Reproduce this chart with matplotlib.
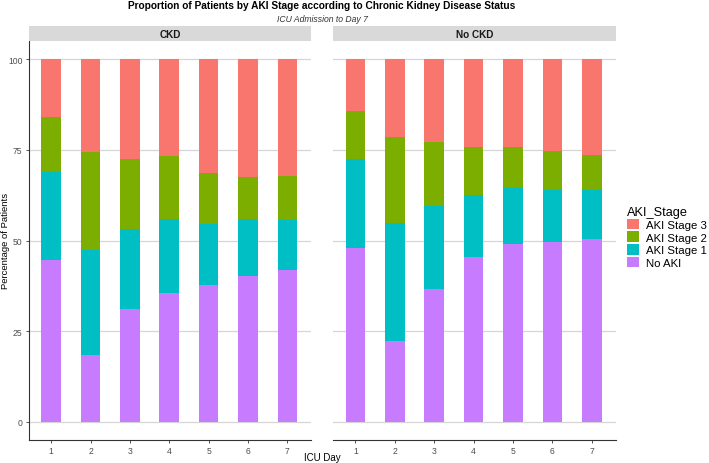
import numpy as np
import matplotlib
matplotlib.use("Agg")
import matplotlib.pyplot as plt
from matplotlib.patches import Patch

plt.rcParams['font.family'] = ['Liberation Sans', 'DejaVu Sans']

days = [1, 2, 3, 4, 5, 6, 7]
panels = ['CKD', 'No CKD']
stages = ['No AKI', 'AKI Stage 1', 'AKI Stage 2', 'AKI Stage 3']
colors = {'AKI Stage 3': '#F8766D', 'AKI Stage 2': '#7CAE00',
          'AKI Stage 1': '#00BFC4', 'No AKI': '#C77CFF'}

# percentages per day
ckd_no_aki = [44.6, 18.4, 31.0, 35.6, 37.7, 40.1, 41.9]
ckd_stage1 = [24.4, 28.9, 22.1, 20.4, 16.8, 15.7, 13.7]
ckd_stage2 = [15.0, 27.1, 19.5, 17.2, 14.1, 11.8, 12.2]
ckd_stage3 = [16.0, 25.6, 27.4, 26.8, 31.4, 32.4, 32.2]

nockd_no_aki = [47.8, 22.4, 36.5, 45.5, 48.9, 49.5, 50.4]
nockd_stage1 = [24.6, 32.4, 22.9, 17.1, 15.6, 14.3, 13.4]
nockd_stage2 = [13.3, 23.8, 17.8, 13.3, 11.4, 10.8, 9.9]
nockd_stage3 = [14.3, 21.4, 22.8, 24.1, 24.1, 25.4, 26.3]

data = {
    'CKD': [ckd_no_aki, ckd_stage1, ckd_stage2, ckd_stage3],
    'No CKD': [nockd_no_aki, nockd_stage1, nockd_stage2, nockd_stage3],
}

W, H = 709, 464
fig = plt.figure(figsize=(W / 100, H / 100), dpi=100)

def px(x0, y0, x1, y1):
    return [x0 / W, 1 - y1 / H, (x1 - x0) / W, (y1 - y0) / H]

grid_col = '#D6D6D6'
panel_x = [(28.7, 311.0), (332.9, 615.5)]

for i, name in enumerate(panels):
    x0, x1 = panel_x[i]
    ax = fig.add_axes(px(x0, 42, x1, 441))
    bottom = np.zeros(len(days))
    for stage, vals in zip(stages, data[name]):
        ax.bar(days, vals, width=0.5, bottom=bottom, color=colors[stage],
               linewidth=0, zorder=2)
        bottom += np.array(vals)
    ax.set_xlim(0.43, 7.6)
    ax.set_ylim(-5, 105)
    ax.set_yticks([0, 25, 50, 75, 100])
    ax.set_xticks(days)
    ax.set_xticklabels([str(d) for d in days])
    ax.yaxis.grid(True, color=grid_col, linewidth=0.9, zorder=0)
    ax.set_axisbelow(True)
    for s in ['top', 'right']:
        ax.spines[s].set_visible(False)
    ax.spines['bottom'].set_color('#333333')
    ax.spines['bottom'].set_linewidth(0.8)
    ax.tick_params(axis='both', labelsize=6.2, colors='#333333', length=2.5,
                   width=0.6, pad=2)
    ax.tick_params(axis='both', labelcolor='#4D4D4D')
    if i == 0:
        ax.spines['left'].set_color('#333333')
        ax.spines['left'].set_linewidth(0.8)
    else:
        ax.spines['left'].set_visible(False)
        ax.tick_params(axis='y', left=False, labelleft=False)

    # facet strip
    sax = fig.add_axes(px(x0, 27, x1, 42))
    sax.set_facecolor('#D9D9D9')
    sax.set_xticks([])
    sax.set_yticks([])
    for s in sax.spines.values():
        s.set_visible(False)
    sax.text(0.5, 0.5, name, ha='center', va='center', fontsize=7.2,
             fontweight='bold', color='#1A1A1A', transform=sax.transAxes)

fig.text(322 / W, 1 - 6 / H, 'Proportion of Patients by AKI Stage according to Chronic Kidney Disease Status',
         ha='center', va='center', fontsize=7.3, fontweight='bold')
fig.text(322 / W, 1 - 19 / H, 'ICU Admission to Day 7', ha='center', va='center',
         fontsize=6.2, style='italic', color='#333333')
fig.text(322 / W, 1 - 458 / H, 'ICU Day', ha='center', va='center', fontsize=7)
fig.text(6 / W, 1 - 241 / H, 'Percentage of Patients', ha='center', va='center',
         rotation=90, fontsize=6.8)

handles = [Patch(facecolor=colors[s], edgecolor='none') for s in stages[::-1]]
leg = fig.legend(handles, stages[::-1], title='AKI_Stage', loc='upper left',
                 bbox_to_anchor=(622 / W, 1 - 202 / H), frameon=False,
                 fontsize=8.2, title_fontsize=9.2, handlelength=1.05,
                 handleheight=1.05, labelspacing=0.12, handletextpad=0.7,
                 borderaxespad=0)
leg._legend_box.align = 'left'

fig.savefig('out.png', dpi=100)
